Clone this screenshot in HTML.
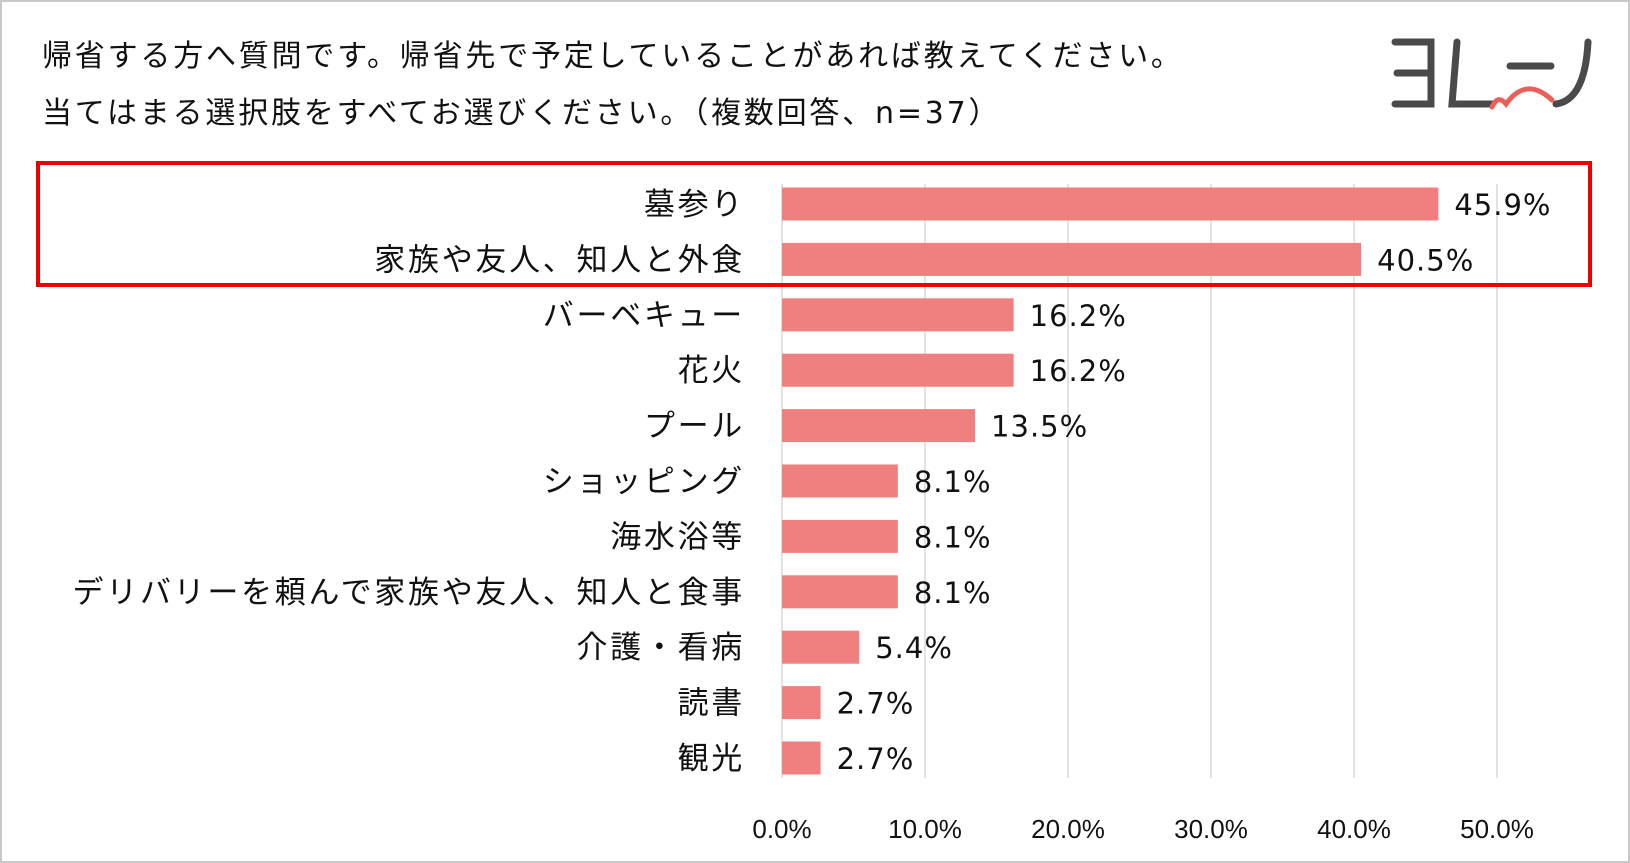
<!DOCTYPE html>
<html><head><meta charset="utf-8"><style>
body{margin:0;background:#fff;}
#wrap{position:relative;width:1630px;height:863px;overflow:hidden;font-family:"Liberation Sans","Noto Sans CJK JP",sans-serif;}
</style></head><body>
<div id="wrap">
<svg id="chart" width="1630" height="863" style="position:absolute;left:0;top:0">
<rect x="0.5" y="0.5" width="1629" height="862" fill="#fff" stroke="#c8c8c8" stroke-width="3"/>
<text x="42" y="66" font-size="30" letter-spacing="2.8" fill="#111" font-family="DejaVu Sans, Noto Sans CJK JP, sans-serif">帰省する方へ質問です。帰省先で予定していることがあれば教えてください。</text>
<text x="42" y="123" font-size="30" letter-spacing="2.8" fill="#111" font-family="DejaVu Sans, Noto Sans CJK JP, sans-serif">当てはまる選択肢をすべてお選びください。（複数回答、n=37）</text>
<g fill="none" stroke="#4a4a4a" stroke-width="7" stroke-linecap="round">
<path d="M1395 42 H1431 V104 H1395 M1397 73 H1429"/>
<path d="M1457 42 L1452 104 H1492"/>
<path d="M1510 66 H1551"/>
<path d="M1588 42 Q1585 100 1556 104"/>
<path d="M1492 107 Q1498 94 1506 104 Q1526 76 1552 100" stroke="#e9605a" stroke-width="5"/>
</g>
<g id="grid"></g><g id="bars"></g>
<rect x="38" y="163" width="1552" height="122" fill="none" stroke="#e00" stroke-width="4"/>
</svg>
</div>
<script>
const categories=["墓参り","家族や友人、知人と外食","バーベキュー","花火","プール","ショッピング","海水浴等","デリバリーを頼んで家族や友人、知人と食事","介護・看病","読書","観光"];
const values=[45.9,40.5,16.2,16.2,13.5,8.1,8.1,8.1,5.4,2.7,2.7];
const ticks=[0,10,20,30,40,50];
const ns="http://www.w3.org/2000/svg";
const x0=782,pxPer=14.3,yTop=204,step=55.4,barH=33;
const xs=v=>x0+v*pxPer, ys=i=>yTop+i*step;
const grid=document.getElementById('grid'),bars=document.getElementById('bars');
function mk(tag,attrs,parent){const e=document.createElementNS(ns,tag);for(const k in attrs)e.setAttribute(k,attrs[k]);parent.appendChild(e);return e;}
ticks.forEach(t=>{
 const l=mk('line',{x1:xs(t),x2:xs(t),y1:184,y2:778,stroke:'#d9d9d9','stroke-width':1.5},grid);
 
 
 const tx=mk('text',{x:xs(t),y:838,'font-size':26,'text-anchor':'middle',fill:'#111'},grid);
 tx.textContent=t.toFixed(1)+'%';
 
 
});
categories.forEach((c,i)=>{
 const y=ys(i);
 const lb=mk('text',{x:745,y:y+11,'font-size':31,'letter-spacing':2.7,'text-anchor':'end',fill:'#111'},bars);
 lb.textContent=c;
 
 
 const r=mk('rect',{x:x0,y:y-barH/2,width:values[i]*pxPer,height:barH,fill:'#f08080'},bars);
 
 
 const v=mk('text',{x:xs(values[i])+16,y:y+11,'font-size':29,'letter-spacing':1,fill:'#111','font-family':'DejaVu Sans, sans-serif'},bars);
 v.textContent=values[i].toFixed(1)+'%';
 
 
});
</script>
</body></html>
